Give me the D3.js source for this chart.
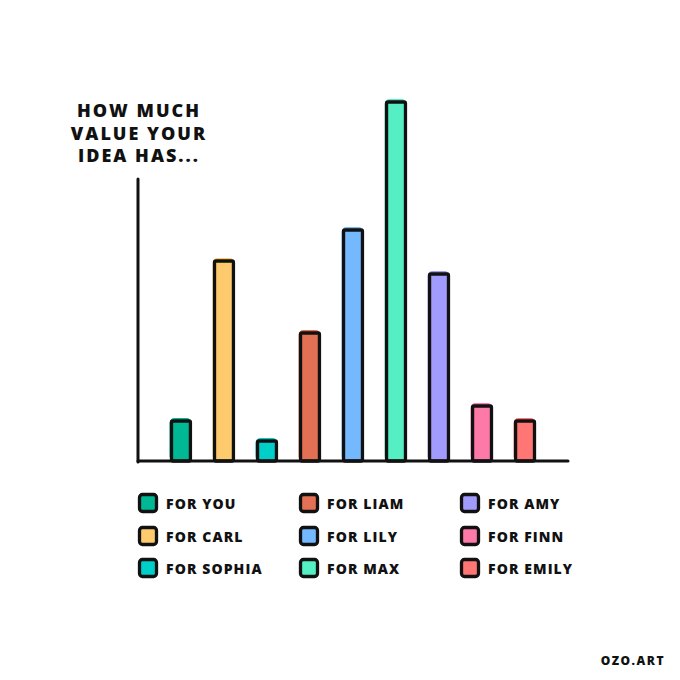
<!DOCTYPE html>
<html>
<head>
<meta charset="utf-8">
<script src="https://cdn.jsdelivr.net/npm/d3@7"></script>
<style>
  html, body { margin: 0; padding: 0; background: #fff; }
  svg { display: block; }
  text { font-family: "Open Sans", "DejaVu Sans", sans-serif; font-weight: 800; fill: #111; }
</style>
</head>
<body>
<svg id="chart" width="680" height="680"></svg>
<script>
const categories = ["FOR YOU", "FOR CARL", "FOR SOPHIA", "FOR LIAM", "FOR LILY", "FOR MAX", "FOR AMY", "FOR FINN", "FOR EMILY"];
const values = [40, 200, 20, 128, 231, 359, 187, 55, 40];
const colors = ["#00b894", "#fdcb6e", "#00cec9", "#e17055", "#74b9ff", "#55efc4", "#a29bfe", "#fd79a8", "#ff7675"];
const titleLines = ["HOW MUCH", "VALUE YOUR", "IDEA HAS..."];
const credit = "OZO.ART";

const svg = d3.select("#chart");
const baseY = 461, axisX = 138, axisEnd = 568, axisTop = 179;

const x = d3.scaleBand().domain(categories).range([150, 556]).paddingInner(0.56).paddingOuter(0.5);
const y = d3.scaleLinear().domain([0, 360]).range([baseY, baseY - 360]);
const color = d3.scaleOrdinal().domain(categories).range(colors);

// sketchy color underlay
svg.append("g").selectAll("rect").data(categories).join("rect")
  .attr("x", d => x(d) - 2)
  .attr("y", (d, i) => y(values[i]) - 3)
  .attr("width", x.bandwidth() + 3)
  .attr("height", (d, i) => baseY - y(values[i]) + 3)
  .attr("rx", 5)
  .attr("fill", d => color(d));

// bars
svg.append("g").selectAll("rect").data(categories).join("rect")
  .attr("x", d => x(d))
  .attr("y", (d, i) => y(values[i]))
  .attr("width", x.bandwidth())
  .attr("height", (d, i) => baseY - y(values[i]))
  .attr("rx", 1.5)
  .attr("fill", d => color(d))
  .attr("stroke", "#111")
  .attr("stroke-width", 3.3)
  .attr("stroke-linejoin", "round");

// axes
svg.append("line").attr("x1", axisX).attr("x2", axisX).attr("y1", axisTop).attr("y2", baseY + 1)
  .attr("stroke", "#111").attr("stroke-width", 3).attr("stroke-linecap", "round");
svg.append("line").attr("x1", axisX).attr("x2", axisEnd).attr("y1", baseY).attr("y2", baseY)
  .attr("stroke", "#111").attr("stroke-width", 3).attr("stroke-linecap", "round");

// title
svg.append("text")
  .attr("text-anchor", "middle")
  .style("font-size", "18px")
  .style("letter-spacing", "2px")
  .selectAll("tspan").data(titleLines).join("tspan")
  .attr("x", 139)
  .attr("y", (d, i) => 117 + i * 22.5)
  .text(d => d);

// legend
const colX = [138, 299, 460];
const rowY = [503, 536, 568];
const leg = svg.append("g").selectAll("g").data(categories).join("g")
  .attr("transform", (d, i) => `translate(${colX[Math.floor(i / 3)]},${rowY[i % 3]})`);
leg.append("rect")
  .attr("x", 1.5).attr("y", -8.5).attr("width", 17).attr("height", 17).attr("rx", 3)
  .attr("fill", d => color(d)).attr("stroke", "#111").attr("stroke-width", 3.3);
leg.append("text")
  .attr("x", 28).attr("y", 5.5)
  .style("font-size", "14px")
  .style("letter-spacing", "1.1px")
  .text(d => d);

// credit
svg.append("text")
  .attr("x", 665).attr("y", 665).attr("text-anchor", "end")
  .style("font-size", "12px").style("letter-spacing", "1.5px")
  .text(credit);
</script>
</body>
</html>
